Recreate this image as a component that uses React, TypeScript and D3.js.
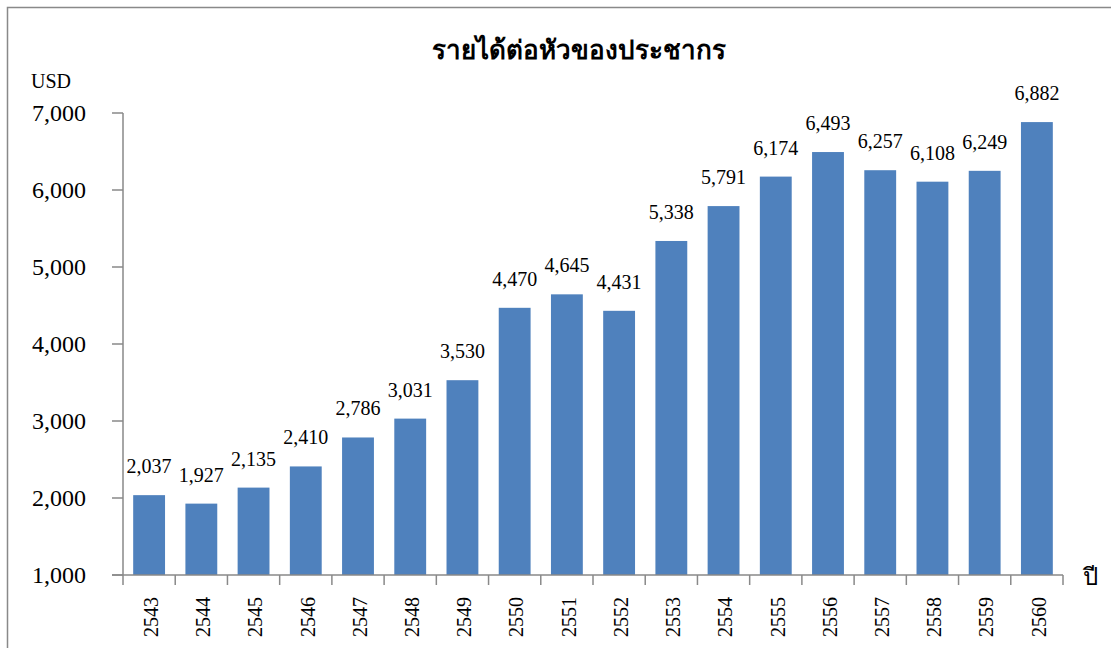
import React from "react";
import * as d3 from "d3";

const years = ["2543","2544","2545","2546","2547","2548","2549","2550","2551","2552","2553","2554","2555","2556","2557","2558","2559","2560"];
const incomes = [2037,1927,2135,2410,2786,3031,3530,4470,4645,4431,5338,5791,6174,6493,6257,6108,6249,6882];
const yTicks = [1000,2000,3000,4000,5000,6000,7000];
const title = "รายได้ต่อหัวของประชากร";
const yUnit = "USD";
const xUnit = "ปี";

const W = 1111, H = 648;
const left = 123, right = 1063, top = 113, bottom = 575;
const serif = "Liberation Serif";
const axisColor = "#898989";
const barColor = "#4F81BD";

export default function App() {
  const x = d3.scaleBand<string>().domain(years).range([left, right]).paddingInner(0.39).paddingOuter(0.195);
  const y = d3.scaleLinear().domain([1000, 7000]).range([bottom, top]);
  const fmt = d3.format(",");
  const step = x.step();
  return (
    <svg width={W} height={H} style={{ position: "absolute", left: 0, top: 0, background: "#fff" }} fontFamily={serif}>
      <rect x={7.5} y={7.5} width={W + 20} height={H + 20} fill="#fff" stroke={axisColor} strokeWidth={1.5} />
      <text x={579} y={59} textAnchor="middle" fontSize={26} fontWeight="bold" fill="#000" fontFamily={serif}>{title}</text>
      <text x={51} y={88} textAnchor="middle" fontSize={20} fill="#000" fontFamily={serif}>{yUnit}</text>
      {incomes.map((v, i) => (
        <rect key={"b" + i} x={x(years[i])!} y={y(v)} width={x.bandwidth()} height={y(1000) - y(v)} fill={barColor} />
      ))}
      {/* y axis */}
      <line x1={left} x2={left} y1={top} y2={bottom} stroke={axisColor} strokeWidth={1.5} />
      {yTicks.map((t) => (
        <g key={"yt" + t}>
          <line x1={left - 11} x2={left} y1={y(t)} y2={y(t)} stroke={axisColor} strokeWidth={1.5} />
          <text x={86} y={y(t)} dy="0.34em" textAnchor="end" fontSize={24} fill="#000" fontFamily={serif}>{fmt(t)}</text>
        </g>
      ))}
      {/* x axis */}
      <line x1={left - 11} x2={right} y1={bottom} y2={bottom} stroke={axisColor} strokeWidth={1.5} />
      {years.map((yr, i) => (
        <line key={"xt" + i} x1={left + i * step} x2={left + i * step} y1={bottom} y2={bottom + 10} stroke={axisColor} strokeWidth={1.5} />
      ))}
      <line x1={right} x2={right} y1={bottom} y2={bottom + 10} stroke={axisColor} strokeWidth={1.5} />
      {years.map((yr) => {
        const cx = x(yr)! + x.bandwidth() / 2;
        return (
          <text key={"xl" + yr} transform={`translate(${cx + 2},597) rotate(-90)`} dy="0.34em" textAnchor="end" fontSize={20} fill="#000" fontFamily={serif}>{yr}</text>
        );
      })}
      {incomes.map((v, i) => (
        <text key={"l" + i} x={x(years[i])! + x.bandwidth() / 2} y={y(v) - 22} textAnchor="middle" fontSize={20} fill="#000" fontFamily={serif}>{fmt(v)}</text>
      ))}
      <text x={1090} y={585} textAnchor="middle" fontSize={24} fill="#000" fontFamily={serif}>{xUnit}</text>
    </svg>
  );
}
